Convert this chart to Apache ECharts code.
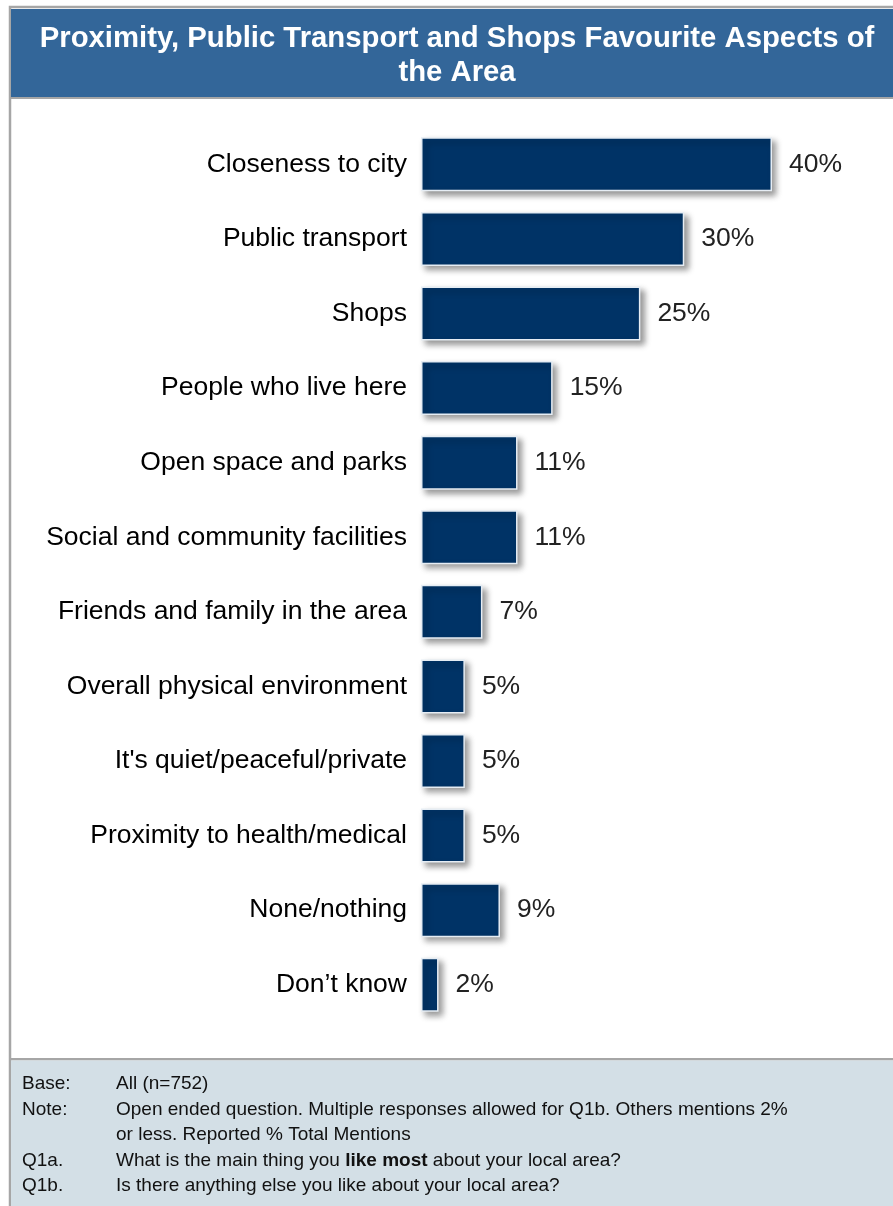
<!DOCTYPE html>
<html>
<head>
<meta charset="utf-8">
<script src="https://cdn.jsdelivr.net/npm/echarts@6/dist/echarts.min.js"></script>
<style>
  html, body { margin: 0; padding: 0; background: #ffffff; }
  #chart { width: 893px; height: 1206px; }
</style>
</head>
<body>
<div id="chart"></div>
<script>
// Favourite aspects of the local area, % total mentions
const categories = [
  'Closeness to city',
  'Public transport',
  'Shops',
  'People who live here',
  'Open space and parks',
  'Social and community facilities',
  'Friends and family in the area',
  'Overall physical environment',
  "It's quiet/peaceful/private",
  'Proximity to health/medical',
  'None/nothing',
  'Don\u2019t know'
];
const values = [40, 30, 25, 15, 11, 11, 7, 5, 5, 5, 9, 2];

const titleLines = [
  'Proximity, Public Transport and Shops Favourite Aspects of',
  'the Area'
];
const footnoteKeys = ['Base:', 'Note:', '', 'Q1a.', 'Q1b.'];
const footnoteTexts = [
  'All (n=752)',
  'Open ended question. Multiple responses allowed for Q1b. Others mentions 2%',
  'or less. Reported % Total Mentions',
  'What is the main thing you {b|like most} about your local area?',
  'Is there anything else you like about your local area?'
];

const FONT = '"Liberation Sans", Arial, sans-serif';
const chart = echarts.init(document.getElementById('chart'), null, { renderer: 'canvas' });

const footerGraphics = [];
footnoteKeys.forEach((k, i) => {
  const y = 1084 + i * 25.5;
  footerGraphics.push({
    type: 'text', x: 22, y: y,
    style: { text: k, font: '19px ' + FONT, fill: '#111', verticalAlign: 'middle' }
  });
  footerGraphics.push({
    type: 'text', x: 116, y: y,
    style: {
      text: footnoteTexts[i], font: '19px ' + FONT, fill: '#111', verticalAlign: 'middle',
      rich: { b: { fontWeight: 'bold', fontSize: 19, fontFamily: FONT, fill: '#111' } }
    }
  });
});

chart.setOption({
  animation: false,
  graphic: [
    // outer frame
    { type: 'rect', shape: { x: 10, y: 7, width: 900, height: 1210 }, style: { fill: '#ffffff', stroke: '#a6a6a6', lineWidth: 2.5 }, z: -10 },
    // title band
    { type: 'rect', shape: { x: 11, y: 9, width: 890, height: 88 }, style: { fill: '#336699' }, z: -9 },
    { type: 'rect', shape: { x: 11, y: 97, width: 890, height: 2 }, style: { fill: '#a6a6a6' }, z: -9 },
    // footer band
    { type: 'rect', shape: { x: 11, y: 1058, width: 890, height: 2.5 }, style: { fill: '#a6a6a6' }, z: -9 },
    { type: 'rect', shape: { x: 11, y: 1060.5, width: 890, height: 150 }, style: { fill: '#d3dfe6' }, z: -9 },
    {
      type: 'text', x: 457, y: 56,
      style: {
        text: titleLines.join('\n'), font: 'bold 29.3px ' + FONT, fill: '#ffffff',
        align: 'center', verticalAlign: 'middle', lineHeight: 34
      }
    }
  ].concat(footerGraphics),
  grid: { left: 421, right: 121, top: 127, bottom: 1206 - 1022, containLabel: false },
  xAxis: {
    type: 'value', min: 0, max: 40, show: false
  },
  yAxis: {
    type: 'category', inverse: true, data: categories,
    axisLine: { show: false }, axisTick: { show: false },
    axisLabel: { color: '#000', fontSize: 26.5, fontFamily: FONT, margin: 14, padding: [7, 0, 0, 0] }
  },
  series: [{
    type: 'bar', data: values, barWidth: 54,
    itemStyle: {
      color: '#003366', borderColor: '#e6edf4', borderWidth: 1.5,
      shadowColor: 'rgba(0,0,0,0.4)', shadowBlur: 6, shadowOffsetX: 4, shadowOffsetY: 4
    },
    label: {
      show: true, position: 'right', distance: 17, padding: [6, 0, 0, 0],
      formatter: '{c}%', color: '#222', fontSize: 26.5, fontFamily: FONT
    }
  }]
});
</script>
</body>
</html>
